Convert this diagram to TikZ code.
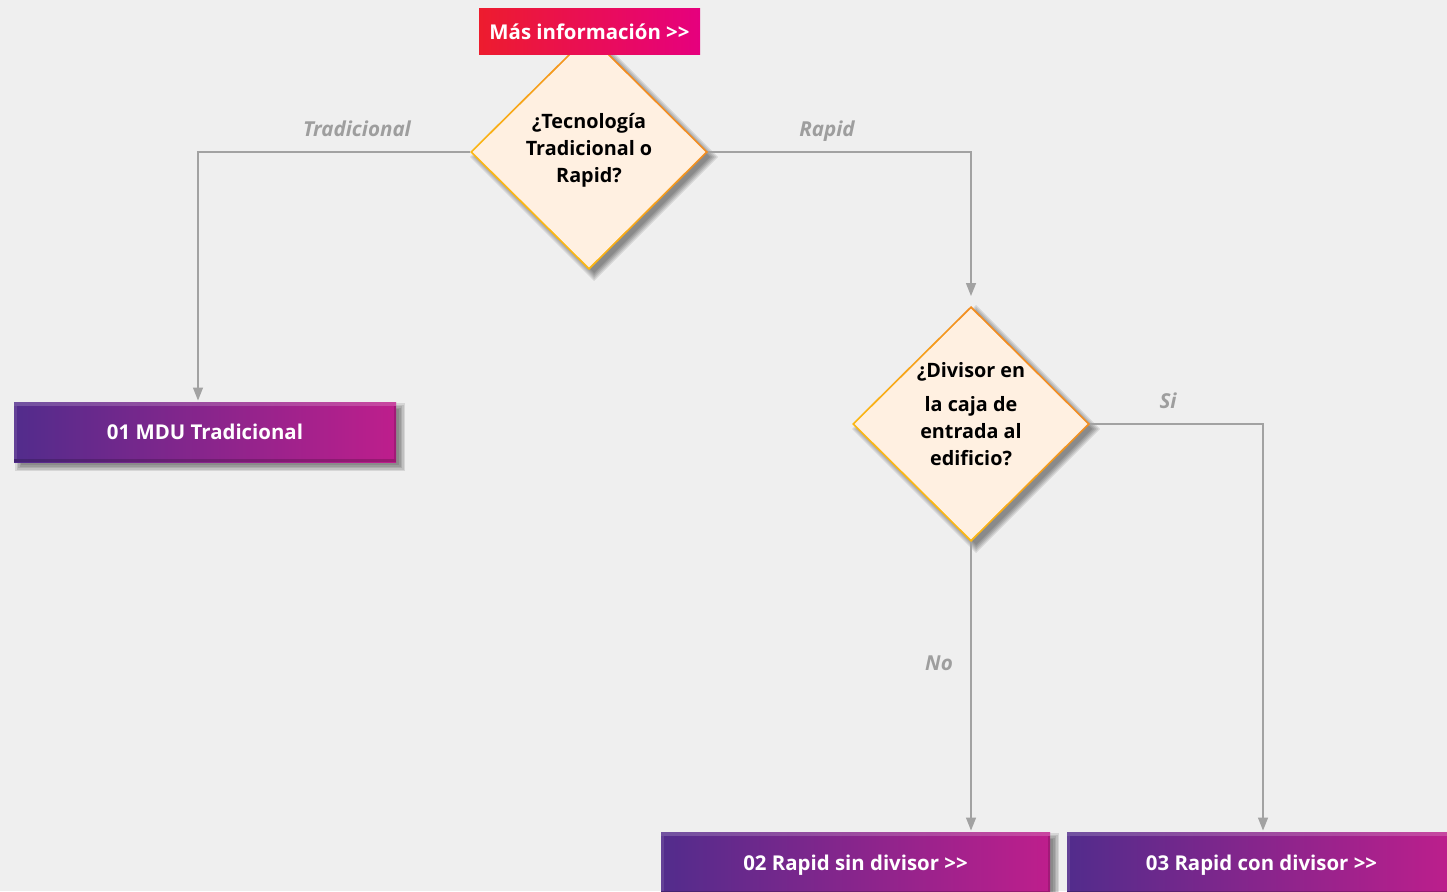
\documentclass[tikz,border=0pt]{standalone}
\usepackage{fontspec}
\setmainfont{Open Sans}
\usetikzlibrary{shapes.geometric,arrows.meta,calc,backgrounds}

\definecolor{bg}{HTML}{EFEFEF}
\definecolor{conn}{HTML}{A2A2A2}
\definecolor{lbl}{HTML}{9E9E9E}
\definecolor{cream}{HTML}{FFF0E1}
\definecolor{rimA}{HTML}{FDC010}
\definecolor{rimB}{HTML}{F08424}
\definecolor{btnA}{HTML}{ED1C2E}
\definecolor{btnB}{HTML}{E6007E}
\definecolor{boxA}{HTML}{522C8C}
\definecolor{boxB}{HTML}{BE1E8C}

\tikzset{
  decision/.style={diamond, minimum width=238pt, minimum height=236pt,
      inner sep=0pt, outer sep=0pt, bottom color=rimA, top color=rimB,
      shading angle=-45},
  decisionface/.style={diamond, minimum width=233pt, minimum height=231pt,
      inner sep=0pt, fill=cream},
  decisiontext/.style={align=center, text=black,
      font=\fontsize{19.8}{27}\selectfont\bfseries},
  outcome/.style={rectangle, minimum height=60pt, inner sep=0pt, outer sep=0pt,
      left color=boxA, right color=boxB, text=white,
      text height=15pt, text depth=0pt,
      font=\fontsize{20.4}{22}\selectfont\bfseries},
  infobtn/.style={rectangle, minimum width=221pt, minimum height=46pt,
      inner sep=0pt, left color=btnA, right color=btnB, text=white,
      text height=15pt, text depth=0pt,
      font=\fontsize{20.4}{22}\selectfont\bfseries},
  connector/.style={draw=conn, line width=1.4pt,
      -{Triangle[width=10pt,length=13pt]}},
  branchlabel/.style={text=lbl, text height=15pt, text depth=0pt,
      font=\fontsize{20.6}{22}\selectfont\bfseries\itshape},
  shadowlayer/.style={fill=black, opacity=.1},
}

% raised edges of an outcome box
\newcommand\boxbevel[1]{%
  \fill[white,opacity=.18] (#1.north west) rectangle ([yshift=-4pt]#1.north east);
  \fill[black,opacity=.18] (#1.south west) rectangle ([yshift=3pt]#1.south east);
  \fill[white,opacity=.10] ([yshift=-4pt]#1.north west) rectangle ([xshift=2.5pt,yshift=3pt]#1.south west);
  \fill[black,opacity=.14] ([yshift=-4pt]#1.north east) rectangle ([xshift=-2.5pt,yshift=3pt]#1.south east);
}
% soft shadow of a box, offset down-right
\newcommand\boxshadow[1]{%
  \foreach \g in {4,2.5,1,-0.5,-2}{
    \fill[shadowlayer] ($(#1.north west)+(5-\g,5-\g)$) rectangle ($(#1.south east)+(5+\g,5+\g)$);
  }
}
% soft shadow of a decision diamond
\newcommand\diamondshadow[1]{%
  \foreach \r in {124,122,120,118,116}{
    \fill[shadowlayer] ($(#1.center)+(5,5)$) +(-\r,0) -- +(0,\r) -- +(\r,0) -- +(0,-\r) -- cycle;
  }
}

\begin{document}
\begin{tikzpicture}[x=1pt,y=-1pt]
  \begin{scope}[on background layer]
    \fill[bg] (0,0) rectangle (1447,891);
  \end{scope}
  \useasboundingbox (0,0) rectangle (1447,891);

  % decisions
  \node[decision] (d1) at (589,152) {};
  \node[decisionface] (d1f) at (d1) {};
  \node[decisiontext] (d1t) at (589,150) {¿Tecnología\\Tradicional o\\Rapid?};

  \node[decision] (d2) at (971,424) {};
  \node[decisionface] (d2f) at (d2) {};
  \node[decisiontext] (d2t) at (971,414) {¿Divisor en\\[7pt]la caja de\\entrada al\\edificio?};

  % outcomes
  \node[outcome, minimum width=382pt] (b1) at (205,432) {01 MDU Tradicional};
  \boxbevel{b1}
  \node[outcome, minimum width=389pt, minimum height=62pt] (b2) at (855.5,863) {02 Rapid sin divisor >{}>};
  \boxbevel{b2}
  \node[outcome, minimum width=389pt, minimum height=62pt] (b3) at (1261.5,863) {03 Rapid con divisor >{}>};
  \boxbevel{b3}

  % link button on top of the first decision
  \node[infobtn] (more) at (589.5,32) {Más información >{}>};

  % shadows beneath the shapes
  \begin{scope}[on background layer]
    \diamondshadow{d1}
    \diamondshadow{d2}
    \boxshadow{b1}
    \boxshadow{b2}
    \boxshadow{b3}
  \end{scope}

  % connectors
  \draw[connector, shorten >=1.5pt] (d1.west) -| ([xshift=-7pt]b1.north);
  \draw[connector, shorten >=10pt] (d1.east) -| (d2.north);
  \draw[connector, shorten >=1.5pt] (d2.east) -| ([xshift=1.5pt]b3.north);
  \draw[connector, shorten >=1.5pt] (d2.south) -- (d2.south |- b2.north);

  % branch labels
  \node[branchlabel] (lt) at (357,129) {Tradicional};
  \node[branchlabel] (lr) at (827,129) {Rapid};
  \node[branchlabel] (ls) at (1168,401) {Si};
  \node[branchlabel] (ln) at (939,663) {No};
\end{tikzpicture}
\end{document}
